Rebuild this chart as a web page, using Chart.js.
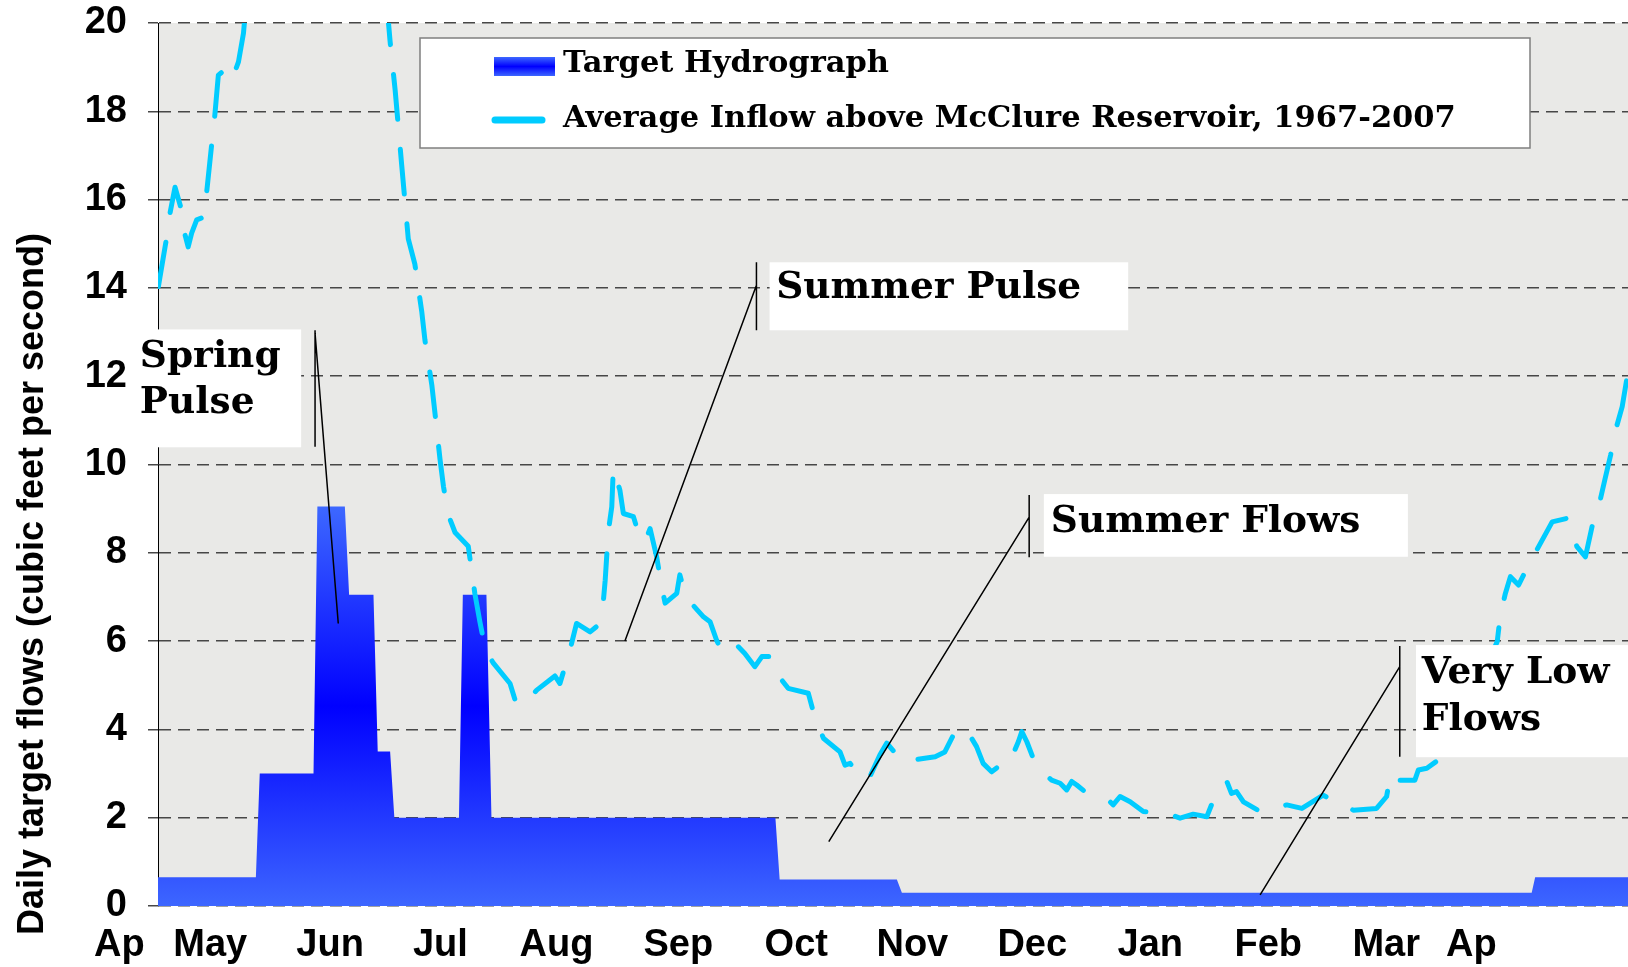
<!DOCTYPE html>
<html>
<head>
<meta charset="utf-8">
<title>Target hydrograph</title>
<script src="https://cdn.jsdelivr.net/npm/chart.js@4.4.1/dist/chart.umd.min.js"></script>
<style>
  html, body { margin: 0; padding: 0; background: #ffffff; }
  #wrap { width: 1628px; height: 967px; }
</style>
</head>
<body>
<div id="wrap"><canvas id="flowChart" width="1628" height="967"></canvas></div>
<script>
// x values are days counted from 1 April
const monthLabels = ["Ap", "May", "Jun", "Jul", "Aug", "Sep", "Oct", "Nov", "Dec", "Jan", "Feb", "Mar", "Ap"];
const monthTickDays = [8, 31.5, 62.5, 91, 121, 152.5, 183, 213, 244, 274.5, 305, 335.5, 357.5];

// target hydrograph (step series)
const hydroDays = [18, 43.3, 44.3, 58.2, 59.2, 66.3, 67.4, 73.7, 74.8, 78.0, 79.1, 95.8, 96.8,
  102.9, 104.2, 177.6, 178.7, 209.0, 210.3, 373.1, 374.0, 398];
const hydroFlows = [0.65, 0.65, 3.0, 3.0, 9.05, 9.05, 7.05, 7.05, 3.5, 3.5, 2.0, 2.0, 7.05,
  7.05, 2.0, 2.0, 0.6, 0.6, 0.3, 0.3, 0.65, 0.65];

// average inflow above McClure Reservoir
const inflowDays = [18.1, 20.2, 21.1, 22.4, 24.1, 25.0, 25.8, 26.7, 28.0, 30.1,
  30.6, 31.9, 32.7, 33.6, 35.3, 37.1, 38.8, 40.1, 41.3, 44.4,
  52.1, 59.9, 67.6, 74.1, 76.6, 78.0, 79.3, 81.0, 82.7, 84.4,
  86.2, 87.0, 88.8, 89.6, 90.9, 91.8, 93.0, 94.8, 98.2, 99.9,
  101.2, 102.5, 103.4, 104.7, 109.0, 110.3, 112.4, 115.9, 120.6, 121.9,
  124.5, 126.2, 129.7, 131.8, 133.0, 133.6, 134.4, 135.3, 135.7, 137.4,
  138.3, 140.9, 142.2, 143.9, 145.2, 146.9, 148.2, 149.1, 152.1, 152.9,
  154.2, 155.5, 159.0, 160.7, 162.4, 164.1, 167.6, 169.7, 172.3, 174.1,
  176.6, 177.9, 180.9, 186.1, 187.4, 190.0, 194.3, 195.6, 196.9, 199.0,
  201.6, 204.6, 206.4, 209.0, 211.5, 213.2, 218.9, 221.4, 223.6, 226.6,
  229.6, 231.3, 233.5, 235.7, 237.8, 240.4, 241.3, 242.6, 245.1, 249.0,
  251.2, 252.9, 254.2, 255.5, 257.6, 263.7, 264.9, 266.7, 269.3, 272.7,
  278.8, 282.2, 285.6, 289.1, 291.7, 294.3, 295.5, 296.8, 298.6, 302.9,
  306.3, 309.8, 313.7, 319.2, 322.3, 324.4, 327.0, 333.0, 335.6, 336.5,
  337.8, 338.6, 342.9, 343.8, 346.0, 349.0, 354.6, 359.3, 364.2, 365.0,
  366.3, 367.6, 369.7, 372.3, 374.9, 378.4, 382.2, 384.8, 387.0, 388.7,
  390.4, 392.0, 393.5, 394.8, 396.5, 398.0];
const inflowFlows = [14.03, 15.12, 15.69, 16.28, 15.76, 15.2, 14.93, 15.24, 15.54, 15.61,
  16.18, 17.27, 17.92, 18.82, 18.94, 18.71, 19.12, 19.77, 21.0, 24.0,
  27.0, 28.0, 26.0, 23.0, 21.0, 19.58, 18.48, 16.78, 15.11, 14.54,
  13.45, 12.82, 11.79, 11.16, 10.12, 9.5, 8.87, 8.46, 8.15, 7.08,
  6.44, 5.87, 5.69, 5.5, 5.04, 4.67, 4.53, 4.89, 5.21, 5.04,
  5.8, 6.4, 6.21, 6.36, 6.78, 7.38, 8.48, 9.04, 9.91, 9.42,
  8.89, 8.82, 8.44, 8.25, 8.55, 7.91, 7.23, 6.86, 7.08, 7.5,
  7.08, 6.89, 6.55, 6.44, 6.02, 5.72, 5.91, 5.72, 5.42, 5.65,
  5.65, 5.27, 4.93, 4.82, 4.4, 3.8, 3.49, 3.19, 3.23, 3.0,
  2.85, 3.42, 3.69, 3.42, 3.25, 3.31, 3.38, 3.49, 3.87, 4.05,
  3.61, 3.23, 3.04, 3.19, 3.19, 3.72, 3.95, 3.72, 3.15, 2.85,
  2.78, 2.63, 2.82, 2.74, 2.59, 2.4, 2.29, 2.48, 2.36, 2.14,
  2.1, 1.99, 2.08, 2.02, 2.59, 2.82, 2.55, 2.59, 2.36, 2.14,
  2.21, 2.29, 2.21, 2.51, 2.36, 2.32, 2.17, 2.21, 2.48, 2.93,
  3.0, 2.85, 2.85, 3.08, 3.12, 3.31, 4.0, 5.0, 5.99, 6.59,
  7.08, 7.46, 7.27, 7.72, 8.14, 8.7, 8.78, 8.14, 7.91, 8.59,
  9.04, 9.65, 10.21, 10.78, 11.31, 12.1];

const seriesNames = ["Target Hydrograph", "Average Inflow above McClure Reservoir, 1967-2007"];
const yTitle = "Daily target flows (cubic feet per second)";

// callout labels, placed in data units (day, flow)
const callouts = [
  { text: ["Spring", "Pulse"], box: [11.3, 55.0, 13.06, 10.39], textX: 13.3, base: [12.21, 11.16],
    stem: [58.6, 13.04, 10.40], tip: [58.6, 12.97, 64.6, 6.40] },
  { text: ["Summer Pulse"], box: [176.1, 268.8, 14.58, 13.04], textX: 177.8, base: [13.76],
    stem: [172.7, 14.58, 13.04], tip: [172.7, 14.06, 138.7, 6.0] },
  { text: ["Summer Flows"], box: [247.0, 341.1, 9.33, 7.91], textX: 248.8, base: [8.48],
    stem: [243.2, 9.31, 7.90], tip: [243.2, 8.81, 191.4, 1.46] },
  { text: ["Very Low", "Flows"], box: [343.2, 400, 5.91, 3.37], textX: 344.7, base: [5.04, 3.98],
    stem: [339.0, 5.89, 3.38], tip: [339.0, 5.42, 302.9, 0.25] }
];

const serifBold = "DejaVu Serif";

function blueFill(ctx, yTop, yBottom) {
  const g = ctx.createLinearGradient(0, yBottom, 0, yTop);
  g.addColorStop(0, "#3d66ff");
  g.addColorStop(0.5, "#0000ff");
  g.addColorStop(1, "#3d68ff");
  return g;
}

const backdrop = {
  id: "backdrop",
  beforeDraw(chart) {
    const { ctx, chartArea: a } = chart;
    ctx.save();
    ctx.fillStyle = "#e9e9e7";
    ctx.fillRect(a.left, a.top, a.right - a.left, a.bottom - a.top);
    ctx.restore();
  }
};

const overlays = {
  id: "overlays",
  afterDatasetsDraw(chart) {
    const { ctx, scales: { x, y } } = chart;
    ctx.save();
    callouts.forEach((c) => {
      const bx0 = x.getPixelForValue(c.box[0]), bx1 = x.getPixelForValue(c.box[1]);
      const by0 = y.getPixelForValue(c.box[2]), by1 = y.getPixelForValue(c.box[3]);
      ctx.fillStyle = "#ffffff";
      ctx.fillRect(bx0, by0, bx1 - bx0, by1 - by0);
      ctx.fillStyle = "#000000";
      ctx.font = "bold 37.5px '" + serifBold + "', serif";
      ctx.textAlign = "left";
      ctx.textBaseline = "alphabetic";
      c.text.forEach((t, i) => ctx.fillText(t, x.getPixelForValue(c.textX), y.getPixelForValue(c.base[i])));
      ctx.strokeStyle = "#000000";
      ctx.lineWidth = 1.5;
      ctx.beginPath();
      ctx.moveTo(x.getPixelForValue(c.stem[0]), y.getPixelForValue(c.stem[1]));
      ctx.lineTo(x.getPixelForValue(c.stem[0]), y.getPixelForValue(c.stem[2]));
      ctx.moveTo(x.getPixelForValue(c.tip[0]), y.getPixelForValue(c.tip[1]));
      ctx.lineTo(x.getPixelForValue(c.tip[2]), y.getPixelForValue(c.tip[3]));
      ctx.stroke();
    });

    // legend box
    const ds = chart.data.datasets;
    ctx.fillStyle = "#ffffff";
    ctx.fillRect(420, 38, 1110, 110);
    ctx.strokeStyle = "#7f7f7f";
    ctx.lineWidth = 1.5;
    ctx.strokeRect(420, 38, 1110, 110);
    ctx.fillStyle = blueFill(ctx, 57, 76);
    ctx.fillRect(494, 57, 61, 19);
    ctx.strokeStyle = ds[1].borderColor;
    ctx.lineWidth = 7;
    ctx.lineCap = "round";
    ctx.beginPath();
    ctx.moveTo(495, 120);
    ctx.lineTo(542, 120);
    ctx.stroke();
    ctx.fillStyle = "#000000";
    ctx.font = "bold 30.5px '" + serifBold + "', serif";
    ctx.textAlign = "left";
    ctx.textBaseline = "alphabetic";
    ctx.fillText(ds[0].label, 563, 72);
    ctx.fillText(ds[1].label, 563, 127);
    ctx.restore();
  },
  afterDraw(chart) {
    const { ctx } = chart;
    ctx.save();
    ctx.translate(43, 584);
    ctx.rotate(-Math.PI / 2);
    ctx.font = "bold 36px 'Liberation Sans', Arial, sans-serif";
    ctx.fillStyle = "#000000";
    ctx.textAlign = "center";
    ctx.textBaseline = "alphabetic";
    ctx.fillText(yTitle, 0, 0);
    ctx.restore();
  }
};

const hydroPoints = hydroDays.map((d, i) => ({ x: d, y: hydroFlows[i] }));
const inflowPoints = inflowDays.map((d, i) => ({ x: d, y: inflowFlows[i] }));

const ctx = document.getElementById("flowChart").getContext("2d");
const chart = new Chart(ctx, {
  type: "line",
  data: {
    datasets: [
      {
        label: seriesNames[0],
        data: hydroPoints,
        order: 2,
        fill: "origin",
        borderWidth: 0,
        pointRadius: 0,
        tension: 0,
        backgroundColor: (c) => {
          const ch = c.chart;
          if (!ch.chartArea) return "#2040ff";
          const y = ch.scales.y;
          return blueFill(ch.ctx, y.getPixelForValue(Math.max(...hydroFlows)), y.getPixelForValue(0));
        },
      },
      {
        label: seriesNames[1],
        data: inflowPoints,
        order: 1,
        fill: false,
        borderColor: "#00ccff",
        borderWidth: 5,
        borderDash: [45, 30],
        borderCapStyle: "round",
        borderJoinStyle: "round",
        pointRadius: 0,
        tension: 0,
      },
    ],
  },
  options: {
    responsive: false,
    animation: false,
    devicePixelRatio: 1,
    layout: { padding: { top: 0, right: 0, bottom: 0, left: 0 } },
    plugins: {
      legend: { display: false },
      tooltip: { enabled: false },
    },
    scales: {
      x: {
        type: "linear",
        min: 18,
        max: 398,
        grid: { display: false, drawTicks: false },
        border: { display: false },
        afterBuildTicks: (scale) => {
          scale.ticks = monthTickDays.map((v) => ({ value: v }));
        },
        afterFit: (scale) => {
          scale.height = 61;
        },
        ticks: {
          autoSkip: false,
          maxRotation: 0,
          padding: 17,
          color: "#000000",
          font: { family: "'Liberation Sans', Arial, sans-serif", size: 38, weight: "bold" },
          callback: (value, index) => monthLabels[index],
        },
      },
      y: {
        min: 0,
        max: 20,
        afterFit: (scale) => {
          scale.width = 158;
          scale.paddingTop = 23;
          scale.paddingBottom = 0;
        },
        ticks: {
          stepSize: 2,
          padding: 21,
          color: "#000000",
          font: { family: "'Liberation Sans', Arial, sans-serif", size: 38, weight: "bold" },
        },
        grid: {
          color: "#474747",
          lineWidth: 1.5,
          tickLength: 10,
          tickColor: "#474747",
        },
        border: { display: true, color: "#000000", width: 1, dash: [12, 7] },
      },
    },
  },
  plugins: [backdrop, overlays],
});
</script>
</body>
</html>
